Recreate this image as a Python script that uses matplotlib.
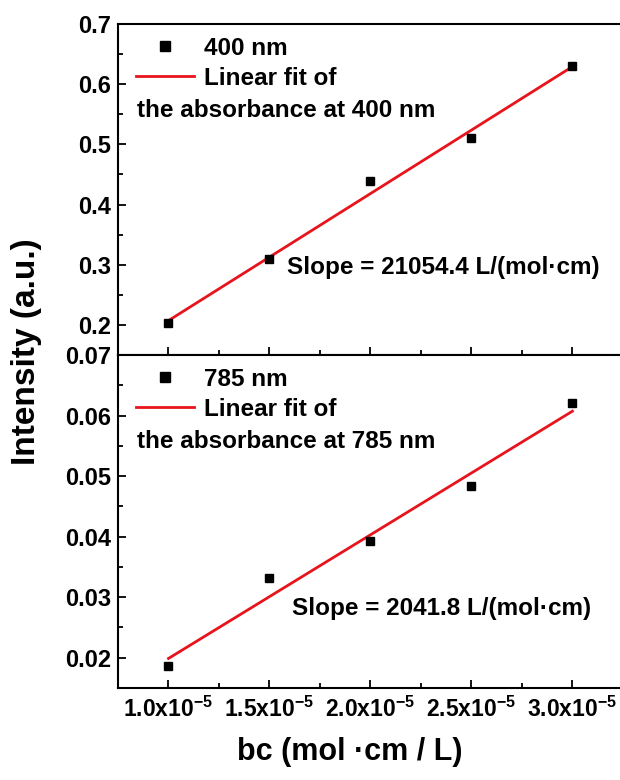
import numpy as np
import matplotlib
matplotlib.use('Agg')
import matplotlib.pyplot as plt
from matplotlib.ticker import MultipleLocator, FixedLocator

plt.rcParams['font.family'] = ['Liberation Sans', 'DejaVu Sans']
plt.rcParams['font.weight'] = 'bold'
plt.rcParams['mathtext.fontset'] = 'custom'
plt.rcParams['mathtext.rm'] = 'Liberation Sans:bold'
plt.rcParams['mathtext.default'] = 'rm'

# data
bc = np.array([1.0e-5, 1.5e-5, 2.0e-5, 2.5e-5, 3.0e-5])
abs_400 = np.array([0.203, 0.309, 0.439, 0.510, 0.630])
abs_785 = np.array([0.0187, 0.0331, 0.0392, 0.0484, 0.0621])
x_ticks = [1.0e-5, 1.5e-5, 2.0e-5, 2.5e-5, 3.0e-5]
x_tick_labels = ['1.0x10$^{-5}$', '1.5x10$^{-5}$', '2.0x10$^{-5}$',
                 '2.5x10$^{-5}$', '3.0x10$^{-5}$']
slope_400 = 'Slope = 21054.4 L/(mol·cm)'
slope_785 = 'Slope = 2041.8 L/(mol·cm)'

red = '#e8141c'

fig = plt.figure(figsize=(6.2, 7.8), dpi=100)
ax1 = fig.add_axes([118/620, 1-355/780, 515/620, 331/780])
ax2 = fig.add_axes([118/620, 1-688/780, 515/620, 333/780])

panels = [
    (ax1, abs_400, '400 nm', 'the absorbance at 400 nm', slope_400,
     (0.15, 0.7), 0.1, (0.328, 0.263)),
    (ax2, abs_785, '785 nm', 'the absorbance at 785 nm', slope_785,
     (0.015, 0.07), 0.01, (0.338, 0.24)),
]

for ax, y, name, line2, slope_txt, ylim, major, slope_pos in panels:
    k, b = np.polyfit(bc, y, 1)
    ax.plot(bc, y, 's', color='black', markersize=5.5, label=name, zorder=3)
    ax.plot(bc, k * bc + b, '-', color=red, lw=2, label='Linear fit of')
    ax.set_xlim(0.75e-5, 3.3e-5)
    ax.set_ylim(*ylim)
    ax.xaxis.set_major_locator(FixedLocator(x_ticks))
    ax.xaxis.set_minor_locator(MultipleLocator(0.25e-5))
    ax.yaxis.set_major_locator(MultipleLocator(major))
    ax.yaxis.set_minor_locator(MultipleLocator(major / 2))
    ax.tick_params(which='both', direction='in', top=False, right=False,
                   width=1.3, labelsize=17, pad=5)
    ax.tick_params(which='major', length=6)
    ax.tick_params(which='minor', length=3.5)
    for s in ax.spines.values():
        s.set_linewidth(1.5)
    ax.spines['right'].set_visible(False)
    leg = ax.legend(loc='upper left', bbox_to_anchor=(0.035, 0.962),
                    frameon=False, fontsize=17.5, handlelength=2.4,
                    handletextpad=0.4, labelspacing=0.3, borderpad=0,
                    borderaxespad=0, markerscale=1.25)
    ax.text(0.037, 0.74, line2, transform=ax.transAxes, fontsize=17.5,
            ha='left', va='center')
    ax.text(slope_pos[0], slope_pos[1], slope_txt, transform=ax.transAxes,
            fontsize=17.5, ha='left', va='center')

ax1.set_yticks([0.2, 0.3, 0.4, 0.5, 0.6, 0.7])
ax1.set_yticklabels(['0.2', '0.3', '0.4', '0.5', '0.6', '0.7'])
ax1.tick_params(axis='x', labelbottom=False)
ax2.set_yticks([0.02, 0.03, 0.04, 0.05, 0.06, 0.07])
ax2.set_yticklabels(['0.02', '0.03', '0.04', '0.05', '0.06', '0.07'])
ax2.set_xticklabels(x_tick_labels)
ax2.tick_params(axis='x', labelsize=16.5, pad=6)

fig.text(27/620, 1-352/780, 'Intensity (a.u.)', rotation=90, fontsize=24,
         ha='center', va='center')
fig.text(350/620, 1-752/780, 'bc (mol ·cm / L)', fontsize=22,
         ha='center', va='center')

fig.savefig('out.png', dpi=100)
